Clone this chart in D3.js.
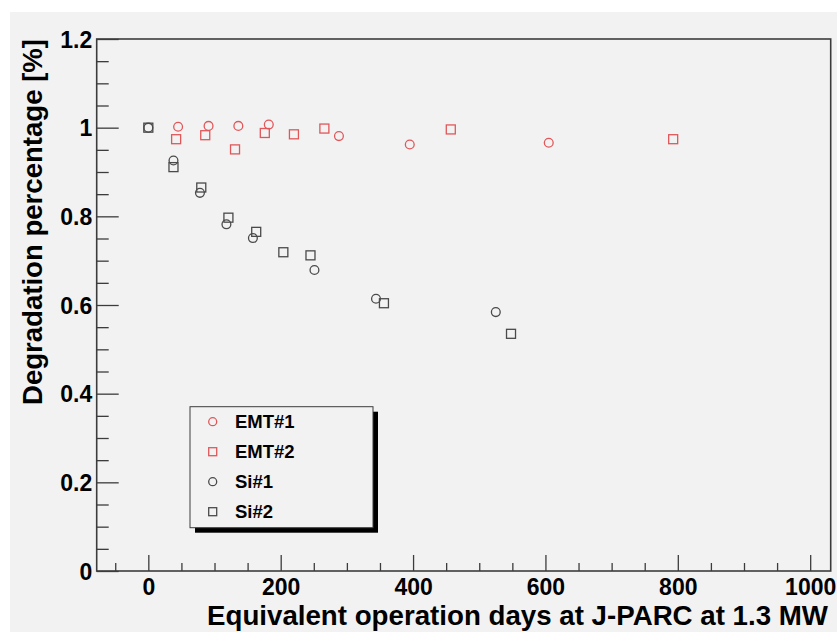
<!DOCTYPE html>
<html>
<head>
<meta charset="utf-8">
<script src="https://cdn.jsdelivr.net/npm/d3@7"></script>
<style>
  html, body { margin: 0; padding: 0; background: #ffffff; }
  svg { display: block; }
  text { font-family: "Liberation Sans", Arial, Helvetica, sans-serif; font-weight: bold; fill: #000; }
</style>
</head>
<body>
<svg id="chart" width="837" height="632"></svg>
<script>
// Equivalent operation days and relative degradation for each sample
const emt1Days = [45, 91, 136, 182, 288, 395, 605];
const emt1Vals = [1.002, 1.004, 1.004, 1.007, 0.981, 0.962, 0.966];

const emt2Days = [42, 86, 131, 176, 220, 266, 457, 793];
const emt2Vals = [0.974, 0.983, 0.951, 0.988, 0.985, 0.998, 0.996, 0.974];

const si1Days = [0, 38, 78, 118, 158, 251, 344, 525];
const si1Vals = [1.0, 0.926, 0.853, 0.782, 0.751, 0.679, 0.614, 0.584];

const si2Days = [0, 38, 80, 121, 163, 204, 245, 356, 548];
const si2Vals = [1.0, 0.911, 0.865, 0.797, 0.765, 0.719, 0.712, 0.604, 0.535];

const seriesNames = ["EMT#1", "EMT#2", "Si#1", "Si#2"];
const seriesShapes = ["circle", "square", "circle", "square"];
const seriesColors = ["#e0575a", "#e0575a", "#4a4a4a", "#4a4a4a"];

const xTickValues = [0, 200, 400, 600, 800, 1000];
const yTickValues = [0, 0.2, 0.4, 0.6, 0.8, 1, 1.2];

const xTitle = "Equivalent operation days at J-PARC at 1.3 MW";
const yTitle = "Degradation percentage [%]";

const dayLists = [emt1Days, emt2Days, si1Days, si2Days];
const valLists = [emt1Vals, emt2Vals, si1Vals, si2Vals];

const series = seriesNames.map((name, i) => ({
  name,
  shape: seriesShapes[i],
  color: seriesColors[i],
  points: dayLists[i].map((d, j) => ({ x: d, y: valLists[i][j] }))
}));

const svg = d3.select("#chart");
const W = 837, H = 632;

// canvas background
svg.append("rect").attr("x", 10).attr("y", 12).attr("width", W - 10).attr("height", H - 12)
  .attr("fill", "#f2f2f2");

const frame = { left: 96.7, top: 39, right: 830.7, bottom: 571 };

const x = d3.scaleLinear().domain([-78, 1031]).range([frame.left, frame.right]);
const y = d3.scaleLinear().domain([0, 1.2]).range([frame.bottom, frame.top]);

// frame
svg.append("rect")
  .attr("x", frame.left).attr("y", frame.top)
  .attr("width", frame.right - frame.left).attr("height", frame.bottom - frame.top)
  .attr("fill", "none").attr("stroke", "#3c3c3c").attr("stroke-width", 1.6);

// x axis: major ticks every 200, minor every 50, ticks point up into the frame
const xMinor = d3.range(-50, 1001, 50).filter(v => v % 200 !== 0);
const xAxisMajor = d3.axisBottom(x).tickValues(xTickValues).tickSize(-16).tickFormat(d3.format("d"));
const xAxisMinor = d3.axisBottom(x).tickValues(xMinor).tickSize(-8).tickFormat("");
const gxMinor = svg.append("g").attr("transform", `translate(0,${frame.bottom})`).call(xAxisMinor);
const gx = svg.append("g").attr("transform", `translate(0,${frame.bottom})`).call(xAxisMajor);
[gx, gxMinor].forEach(g => {
  g.select(".domain").remove();
  g.selectAll("line").attr("stroke", "#3c3c3c").attr("stroke-width", 1.3);
});
gx.selectAll("text").attr("font-size", 23).attr("dy", 0).attr("y", 24);

// y axis: major ticks every 0.2, minor every 0.05
const yMinor = d3.range(0.05, 1.2, 0.05).filter(v => Math.abs(v * 5 - Math.round(v * 5)) > 1e-6);
const yAxisMajor = d3.axisLeft(y).tickValues(yTickValues).tickSize(-22)
  .tickFormat(d => d === 0 ? "0" : d === 1 ? "1" : d3.format(".1f")(d));
const yAxisMinor = d3.axisLeft(y).tickValues(yMinor).tickSize(-12).tickFormat("");
const gyMinor = svg.append("g").attr("transform", `translate(${frame.left},0)`).call(yAxisMinor);
const gy = svg.append("g").attr("transform", `translate(${frame.left},0)`).call(yAxisMajor);
[gy, gyMinor].forEach(g => {
  g.select(".domain").remove();
  g.selectAll("line").attr("stroke", "#3c3c3c").attr("stroke-width", 1.3);
});
gy.selectAll("text").attr("font-size", 23).attr("x", -4.5).attr("dy", "0.36em");

// axis titles, right-aligned to the end of each axis
svg.append("text")
  .attr("x", 828).attr("y", 625)
  .attr("text-anchor", "end")
  .attr("font-size", 27)
  .attr("textLength", 621).attr("lengthAdjust", "spacingAndGlyphs")
  .text(xTitle);

svg.append("text")
  .attr("transform", `translate(42,${frame.top}) rotate(-90)`)
  .attr("text-anchor", "end")
  .attr("font-size", 27)
  .attr("textLength", 366).attr("lengthAdjust", "spacingAndGlyphs")
  .text(yTitle);

// markers
const R = 4.4, S = 9;
function drawMarker(g, shape, color, cx, cy, r, s) {
  if (shape === "circle") {
    g.append("circle").attr("cx", cx).attr("cy", cy).attr("r", r)
      .attr("fill", "none").attr("stroke", color).attr("stroke-width", 1.3);
  } else {
    g.append("rect").attr("x", cx - s / 2).attr("y", cy - s / 2).attr("width", s).attr("height", s)
      .attr("fill", "none").attr("stroke", color).attr("stroke-width", 1.3);
  }
}

const plot = svg.append("g");
series.forEach(s => {
  const g = plot.append("g").attr("class", "series");
  s.points.forEach(p => drawMarker(g, s.shape, s.color, x(p.x), y(p.y), R, S));
});

// legend with drop shadow
const lg = { x: 190, y: 406.7, w: 183, h: 121 };
svg.append("rect").attr("x", lg.x + 5).attr("y", lg.y + 5).attr("width", lg.w).attr("height", lg.h)
  .attr("fill", "#000");
svg.append("rect").attr("x", lg.x).attr("y", lg.y).attr("width", lg.w).attr("height", lg.h)
  .attr("fill", "#f2f2f2").attr("stroke", "#3c3c3c").attr("stroke-width", 1);

const legend = svg.append("g");
series.forEach((s, i) => {
  const cy = 421.7 + i * 30;
  drawMarker(legend, s.shape, s.color, 212.7, cy, 4, 8);
  legend.append("text")
    .attr("x", 235).attr("y", cy).attr("dy", "0.36em")
    .attr("font-size", 18.5)
    .text(s.name);
});
</script>
</body>
</html>
